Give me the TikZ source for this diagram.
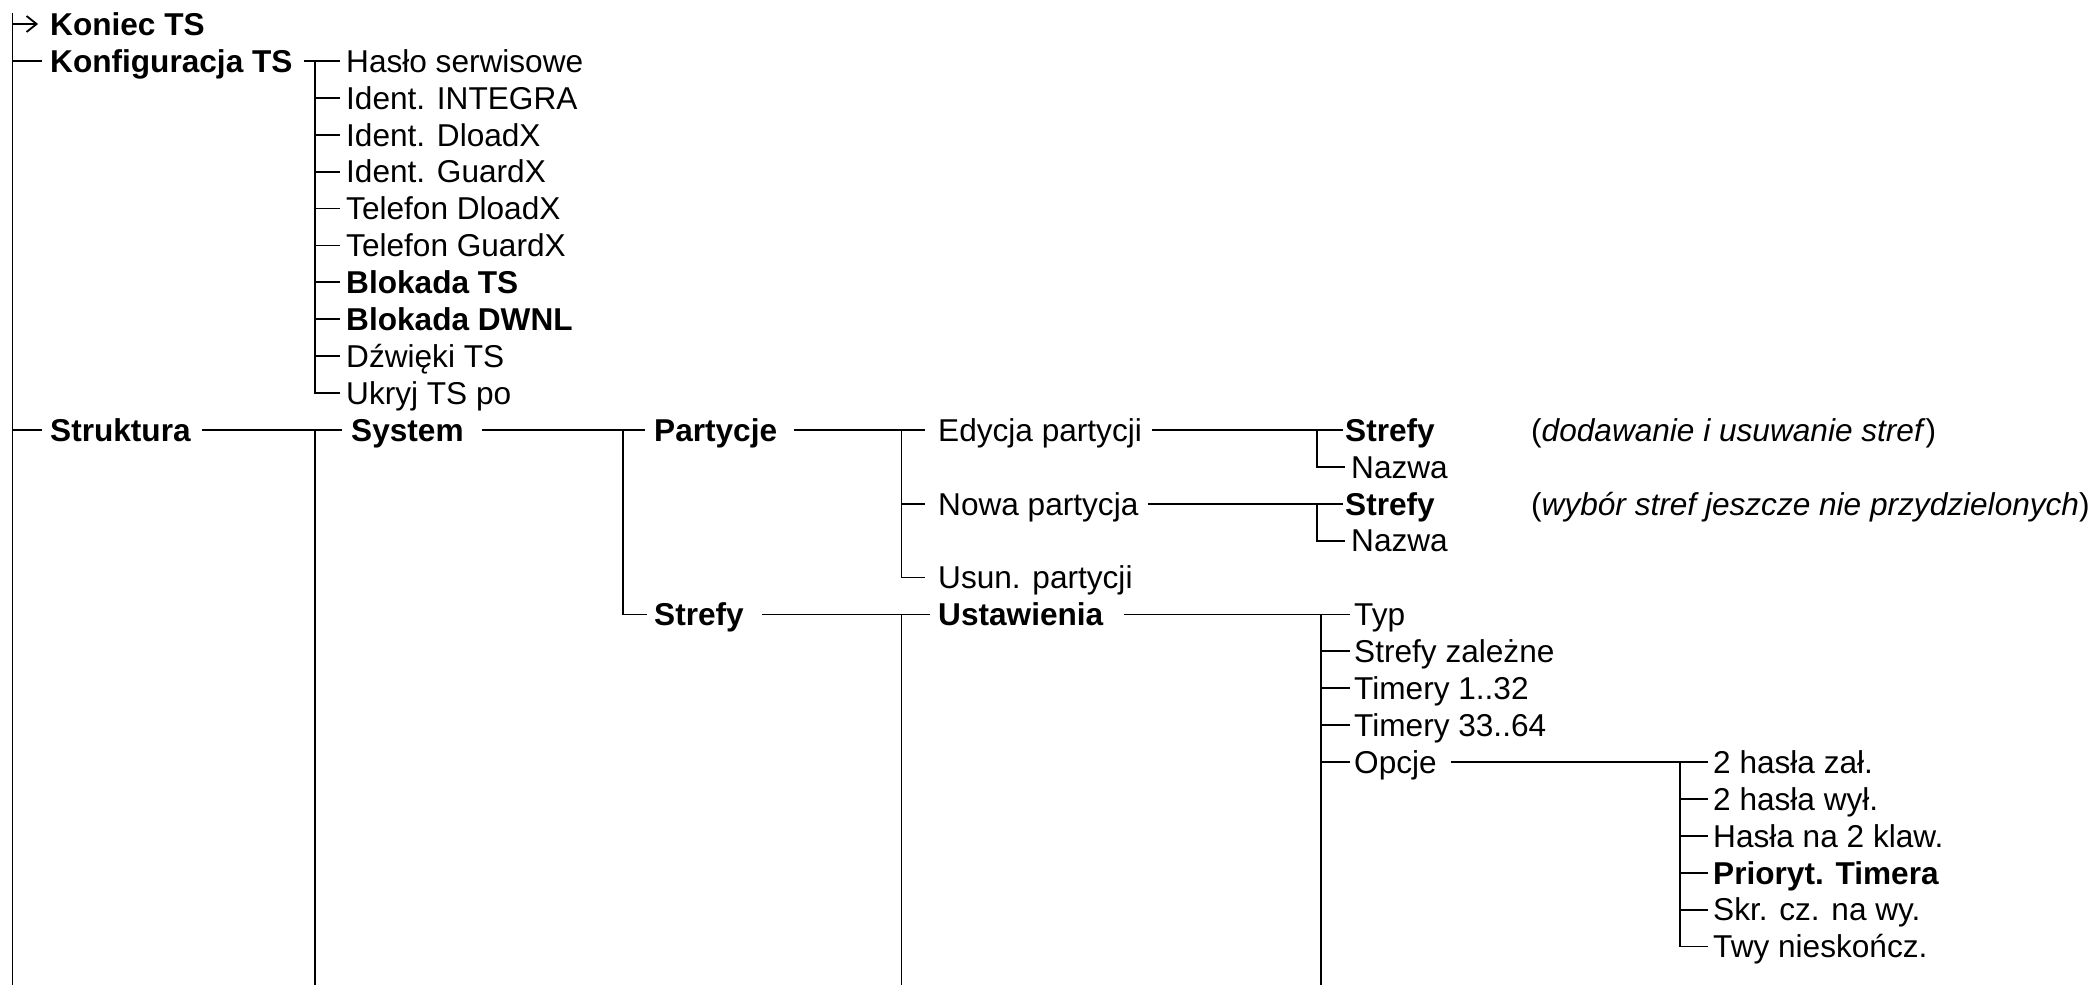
\documentclass[tikz,border=0pt]{standalone}
\usepackage{fontspec}
\setmainfont{Liberation Sans}
\usetikzlibrary{arrows.meta}
\newcommand\fsz{\fontsize{31.6}{37}\selectfont}
\begin{document}
\begin{tikzpicture}[x=1pt,y=-1pt,
  lbl/.style={anchor=west,inner sep=0pt,text height=22.6pt,text depth=0pt,font=\fsz},
  bl/.style={lbl,font=\fsz\bfseries},
  ln/.style={line width=1.8pt,line cap=butt},
  arr/.style={ln,-{Straight Barb[length=10pt,width=16pt]}}]
\useasboundingbox (0,0) rectangle (2096,985);
% free ends / branch columns
\coordinate (rt) at (12.5,13);
\coordinate (rb) at (12.5,985);
\coordinate (kv) at (315,0);
\coordinate (sb) at (315,985);
\coordinate (pv) at (622.7,0);
\coordinate (ev) at (901.5,0);
\coordinate (ub) at (901.5,985);
\coordinate (sv) at (1317,0);
\coordinate (tv) at (1321,0);
\coordinate (tb) at (1321,985);
\coordinate (ov) at (1680,0);
% level 1
\node[bl] (kon) at (50,24) {Koniec TS};
\node[bl] (konf) at (50,60.9) {Konfiguracja TS};
\node[bl] (str) at (50,429.9) {Struktura};
% Konfiguracja TS
\node[lbl] (k1) at (346,60.9) {Hasło serwisowe};
\node[lbl] (k2) at (346,97.8) {Ident. INTEGRA};
\node[lbl] (k3) at (346,134.7) {Ident. DloadX};
\node[lbl] (k4) at (346,171.6) {Ident. GuardX};
\node[lbl] (k5) at (346,208.5) {Telefon DloadX};
\node[lbl] (k6) at (346,245.4) {Telefon GuardX};
\node[bl] (k7) at (346,282.3) {Blokada TS};
\node[bl] (k8) at (346,319.2) {Blokada DWNL};
\node[lbl] (k9) at (346,356.1) {Dźwięki TS};
\node[lbl] (k10) at (346,393.0) {Ukryj TS po};
% Struktura
\node[bl] (sys) at (351,429.9) {System};
\node[bl] (par) at (654,429.9) {Partycje};
\node[bl] (stf) at (654,614.4) {Strefy};
\node[lbl] (ed) at (938,429.9) {Edycja partycji};
\node[lbl] (nw) at (938,503.7) {Nowa partycja};
\node[lbl] (us) at (938,577.5) {Usun. partycji};
\node[bl] (ust) at (938,614.4) {Ustawienia};
\node[bl] (es) at (1345,429.9) {Strefy};
\node[lbl] (en) at (1351,466.8) {Nazwa};
\node[bl] (ns) at (1345,503.7) {Strefy};
\node[lbl] (nn) at (1351,540.6) {Nazwa};
\node[lbl] (c1) at (1531,429.9) {(\textit{dodawanie i usuwanie stref})};
\node[lbl] (c2) at (1531,503.7) {(\textit{wybór stref jeszcze nie przydzielonych})};
\node[lbl] (t1) at (1354,614.4) {Typ};
\node[lbl] (t2) at (1354,651.3) {Strefy zależne};
\node[lbl] (t3) at (1354,688.2) {Timery 1..32};
\node[lbl] (t4) at (1354,725.1) {Timery 33..64};
\node[lbl] (op) at (1354,762.0) {Opcje};
\node[lbl] (o1) at (1713,762.0) {2 hasła zał.};
\node[lbl] (o2) at (1713,798.9) {2 hasła wył.};
\node[lbl] (o3) at (1713,835.8) {Hasła na 2 klaw.};
\node[bl] (o4) at (1713,872.7) {Prioryt. Timera};
\node[lbl] (o5) at (1713,909.6) {Skr. cz. na wy.};
\node[lbl] (o6) at (1713,946.5) {Twy nieskończ.};
% root
\draw[ln] (rt) -- (rb);
\draw[arr] (kon.west -| rt) -- ([xshift=-12]kon.west);
\draw[ln] (konf.west -| rt) -- ([xshift=-8]konf.west);
\draw[ln] (str.west -| rt) -- ([xshift=-8]str.west);
% Konfiguracja TS branch
\draw[ln] ([xshift=11]konf.east) -- ([xshift=-6]k1.west);
\draw[ln] (k1.west -| kv) |- ([xshift=-6]k10.west);
\foreach \k in {k2,k3,k4,k5,k6,k7,k8,k9}
  \draw[ln] (\k.west -| kv) -- ([xshift=-6]\k.west);
% Struktura -> System
\draw[ln] ([xshift=11.5]str.east) -- ([xshift=-9]sys.west);
\draw[ln] (sys.west -| kv) -- (sb);
% System -> Partycje / Strefy
\draw[ln] ([xshift=18.5]sys.east) -- ([xshift=-9]par.west);
\draw[ln] (par.west -| pv) |- ([xshift=-7]stf.west);
% Partycje
\draw[ln] ([xshift=17]par.east) -- ([xshift=-13]ed.west);
\draw[ln] (ed.west -| ev) |- ([xshift=-13]us.west);
\draw[ln] (nw.west -| ev) -- ([xshift=-13]nw.west);
% Strefy -> Ustawienia
\draw[ln] ([xshift=18.4]stf.east) -- ([xshift=-8]ust.west);
\draw[ln] (ust.west -| ev) -- (ub);
% Edycja / Nowa
\draw[ln] ([xshift=10]ed.east) -- ([xshift=-2]es.west);
\draw[ln] (es.west -| sv) |- ([xshift=-6]en.west);
\draw[ln] ([xshift=9]nw.east) -- ([xshift=-2]ns.west);
\draw[ln] (ns.west -| sv) |- ([xshift=-6]nn.west);
% Ustawienia
\draw[ln] ([xshift=21]ust.east) -- ([xshift=-4]t1.west);
\draw[ln] (t1.west -| tv) -- (tb);
\foreach \t in {t2,t3,t4,op}
  \draw[ln] (\t.west -| tv) -- ([xshift=-4]\t.west);
% Opcje
\draw[ln] ([xshift=14.5]op.east) -- ([xshift=-5]o1.west);
\draw[ln] (o1.west -| ov) |- ([xshift=-5]o6.west);
\foreach \o in {o2,o3,o4,o5}
  \draw[ln] (\o.west -| ov) -- ([xshift=-5]\o.west);
\end{tikzpicture}
\end{document}
